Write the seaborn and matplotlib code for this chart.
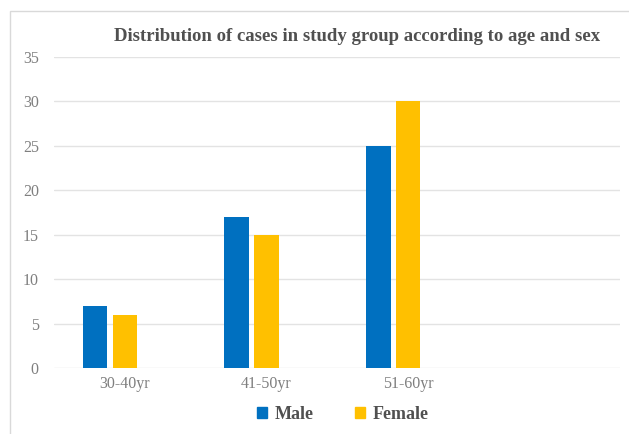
import matplotlib
matplotlib.use("Agg")
import matplotlib.pyplot as plt
from matplotlib.patches import Rectangle
import seaborn as sns
import pandas as pd

# Age groups on the x axis (the last slot is left empty)
age_groups = ["30-40yr", "41-50yr", "51-60yr", ""]
# Number of cases per age group
male_cases = [7, 17, 25]
female_cases = [6, 15, 30]
# Series order; the trailing empty level keeps an unused slot in each group
series = ["Male", "Female", ""]
colors = {"Male": "#0070C0", "Female": "#FFC000", "": "#FFFFFF"}
y_ticks = [0, 5, 10, 15, 20, 25, 30, 35]
title = "Distribution of cases in study group according to age and sex"

df = pd.DataFrame({
    "age": age_groups[:3] * 2,
    "sex": ["Male"] * 3 + ["Female"] * 3,
    "cases": male_cases + female_cases,
})

sns.set_theme(style="white")
plt.rcParams["font.family"] = ["Liberation Serif", "DejaVu Serif"]

fig = plt.figure(figsize=(6.29, 4.34), dpi=100)
ax = fig.add_axes([0.086, 0.152, 0.9, 0.717])

sns.barplot(data=df, x="age", y="cases", hue="sex", order=age_groups,
            hue_order=series, palette=colors, width=0.63, gap=0.17,
            saturation=1, errorbar=None, ax=ax, legend=False, zorder=3,
            linewidth=0)

ax.set_ylim(0, 35)
ax.set_yticks(y_ticks)
ax.set_xlabel("")
ax.set_ylabel("")
ax.grid(axis="y", color="#E3E3E3", linewidth=1.0, zorder=0)
ax.grid(axis="x", visible=False)
for side in ["top", "right", "left", "bottom"]:
    ax.spines[side].set_visible(False)
ax.tick_params(axis="both", length=0, labelsize=11.5, labelcolor="#7F7F7F")
ax.tick_params(axis="y", pad=11)
ax.tick_params(axis="x", pad=6)

fig.text(0.567, 0.915, title, ha="center", va="center", fontsize=13.5,
         fontweight="bold", color="#505050")

handles = [Rectangle((0, 0), 1, 1, color=colors[s]) for s in series[:2]]
fig.legend(handles, series[:2], loc="center", bbox_to_anchor=(0.545, 0.046),
           ncol=2, frameon=False, handlelength=0.55, handleheight=0.55,
           handletextpad=0.4, columnspacing=2.3,
           prop={"family": "Liberation Serif", "weight": "bold", "size": 13},
           labelcolor="#505050")

# Chart frame
fig.patches.append(Rectangle((10 / 629, -0.05), 1.2, 1 - 11 / 434 + 0.05,
                             transform=fig.transFigure, fill=False,
                             edgecolor="#D9D9D9", linewidth=1.0))

fig.savefig("out.png", dpi=100)
